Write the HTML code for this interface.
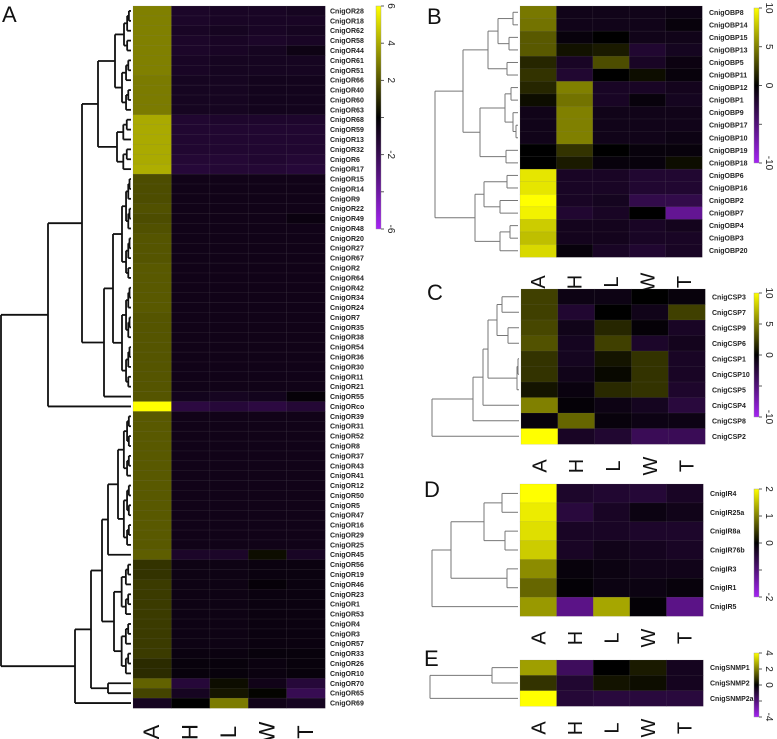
<!DOCTYPE html>
<html><head><meta charset="utf-8"><style>
html,body{margin:0;padding:0;background:#fff;}
svg{display:block;font-family:"Liberation Sans",sans-serif;}
</style></head><body>
<svg id="fig" width="777" height="739" viewBox="0 0 777 739" xmlns="http://www.w3.org/2000/svg"></svg>
<script>
const cols=['A','H','L','W','T'];
const labelsA=['CnigOR28','CnigOR18','CnigOR62','CnigOR58','CnigOR44','CnigOR61','CnigOR51','CnigOR66','CnigOR40','CnigOR60','CnigOR63','CnigOR68','CnigOR59','CnigOR13','CnigOR32','CnigOR6','CnigOR17','CnigOR15','CnigOR14','CnigOR9','CnigOR22','CnigOR49','CnigOR48','CnigOR20','CnigOR27','CnigOR67','CnigOR2','CnigOR64','CnigOR42','CnigOR34','CnigOR24','CnigOR7','CnigOR35','CnigOR38','CnigOR54','CnigOR36','CnigOR30','CnigOR11','CnigOR21','CnigOR55','CnigORco','CnigOR39','CnigOR31','CnigOR52','CnigOR8','CnigOR37','CnigOR43','CnigOR41','CnigOR12','CnigOR50','CnigOR5','CnigOR47','CnigOR16','CnigOR29','CnigOR25','CnigOR45','CnigOR56','CnigOR19','CnigOR46','CnigOR23','CnigOR1','CnigOR53','CnigOR4','CnigOR3','CnigOR57','CnigOR33','CnigOR26','CnigOR10','CnigOR70','CnigOR65','CnigOR69'];
const valsA=[
[3.0,-1,-0.9,-0.9,-0.8],[3.0,-1,-0.9,-0.9,-0.9],[3.0,-0.9,-0.8,-0.9,-0.8],[3.0,-1,-0.9,-1,-0.9],[3.0,-1,-0.9,-0.8,-0.5],
[3.0,-0.9,-0.8,-0.8,-0.8],[3.0,-0.9,-0.8,-0.8,-0.8],[2.9,-0.8,-0.8,-0.7,-0.7],[2.9,-0.8,-0.8,-0.7,-0.7],[2.9,-0.8,-0.8,-0.7,-0.7],[2.9,-0.8,-0.8,-0.7,-0.7],
[4.0,-1.2,-1.1,-1.1,-1.1],[4.0,-1.2,-1.2,-1.2,-1.2],[4.0,-1.2,-1.2,-1.2,-1.2],[4.0,-1.2,-1.2,-1.2,-1.2],[4.0,-1.3,-1.3,-1.2,-1.3],[4.1,-1.4,-1.3,-1.3,-1.4],
[1.8,-0.6,-0.6,-0.6,-0.6],[1.8,-0.6,-0.6,-0.6,-0.6],[1.8,-0.6,-0.6,-0.6,-0.6],[1.9,-0.6,-0.6,-0.6,-0.6],[1.8,-0.6,-0.6,-0.6,-0.4],[1.9,-0.6,-0.6,-0.6,-0.6],[2.0,-0.6,-0.6,-0.6,-0.6],
[2.0,-0.6,-0.6,-0.6,-0.6],[2.0,-0.6,-0.6,-0.6,-0.6],[2.1,-0.6,-0.6,-0.6,-0.6],[2.1,-0.6,-0.6,-0.6,-0.6],[2.1,-0.6,-0.6,-0.6,-0.6],[2.1,-0.6,-0.6,-0.6,-0.6],[2.1,-0.6,-0.6,-0.6,-0.6],
[2.0,-0.6,-0.6,-0.6,-0.6],[2.0,-0.6,-0.6,-0.6,-0.6],[2.0,-0.6,-0.6,-0.6,-0.6],[2.0,-0.6,-0.6,-0.6,-0.6],[2.0,-0.6,-0.6,-0.6,-0.6],[2.0,-0.6,-0.6,-0.6,-0.6],[2.0,-0.6,-0.6,-0.6,-0.6],[2.0,-0.6,-0.6,-0.6,-0.6],[2.0,-0.7,-0.8,-0.7,-0.2],
[6.0,-1.6,-1.4,-1.6,-1.3],
[2.1,-0.6,-0.6,-0.6,-0.6],[2.1,-0.6,-0.6,-0.6,-0.6],[2.1,-0.6,-0.6,-0.6,-0.6],[2.1,-0.6,-0.6,-0.6,-0.6],[2.1,-0.6,-0.6,-0.6,-0.6],[2.1,-0.6,-0.6,-0.6,-0.6],[2.1,-0.6,-0.6,-0.6,-0.6],
[2.1,-0.6,-0.6,-0.6,-0.6],[2.1,-0.6,-0.6,-0.6,-0.6],[2.1,-0.6,-0.6,-0.6,-0.6],[2.1,-0.6,-0.6,-0.6,-0.6],[2.1,-0.6,-0.6,-0.6,-0.6],[2.1,-0.6,-0.6,-0.6,-0.6],[2.1,-0.6,-0.6,-0.6,-0.6],
[2.2,-1.0,-1.0,0.3,-0.9],
[1.2,-0.5,-0.5,-0.4,-0.4],[1.2,-0.5,-0.5,-0.4,-0.4],[1.4,-0.5,-0.5,-0.2,-0.4],[1.4,-0.5,-0.5,-0.4,-0.4],[1.4,-0.5,-0.5,-0.4,-0.4],[1.4,-0.5,-0.5,-0.4,-0.4],
[1.4,-0.5,-0.5,-0.4,-0.4],[1.4,-0.5,-0.5,-0.4,-0.4],[1.4,-0.5,-0.5,-0.4,-0.4],[1.4,-0.4,-0.4,-0.3,-0.3],[1.0,-0.3,-0.3,-0.4,-0.3],[1.0,-0.3,-0.3,-0.4,-0.3],
[2.3,-1.4,0.3,-0.6,-1.4],[1.6,-0.8,0.5,0.1,-2.0],[-0.8,0.0,2.9,-0.6,-0.8]];
const labelsB=['CnigOBP8','CnigOBP14','CnigOBP15','CnigOBP13','CnigOBP5','CnigOBP11','CnigOBP12','CnigOBP1','CnigOBP9','CnigOBP17','CnigOBP10','CnigOBP19','CnigOBP18','CnigOBP6','CnigOBP16','CnigOBP2','CnigOBP7','CnigOBP4','CnigOBP3','CnigOBP20'];
const valsB=[[4.7,-1,-1,-1,-0.8],[4.5,-1,-1,-1,-0.5],[3.5,-0.5,0,-1,-1],[3.5,0.7,1,-2,-1.3],[1.5,-1.5,3,-1.5,-0.7],[2,-2,0,0.5,-0.5],[1.5,5,-1.5,-1.5,-1.2],[0.5,4.5,-1.5,-0.5,-1.3],[-1,5,-1,-1,-1],[-1,5,-1,-1,-1],[-1,5,-1,-1,-0.8],[0,2,0,-0.5,-0.5],[0,1,-0.5,-0.5,0.5],[9,-1.5,-1.5,-2,-2],[9,-1.5,-1.5,-2,-2],[10,-1.5,-1.3,-3,-3],[9.5,-2,-1.5,0,-6],[8,-1.2,-1.2,-1.5,-1.2],[7.5,-1.2,-1.2,-1.5,-1.5],[8.5,-0.5,-1.5,-2,-1.5]];
const labelsC=['CnigCSP3','CnigCSP7','CnigCSP9','CnigCSP6','CnigCSP1','CnigCSP10','CnigCSP5','CnigCSP4','CnigCSP8','CnigCSP2'];
const valsC=[[2.5,-0.8,-0.8,0,-0.5],[2.5,-2,0,-1,2.5],[2.8,-1,1.5,-0.3,-1.5],[3.2,-1.3,2.5,-1.7,-1.2],[2,-1.3,0.8,2,-1.5],[2,-1,0.3,2,-1.5],[0.8,-0.6,1.6,2,-1.8],[5,-0.3,-0.8,-1.3,-2.5],[-0.5,4,-0.5,-0.8,-0.8],[10,-1.5,-2,-3.5,-3.5]];
const labelsD=['CnigIR4','CnigIR25a','CnigIR8a','CnigIR76b','CnigIR3','CnigIR1','CnigIR5'];
const valsD=[[2,-0.35,-0.4,-0.45,-0.3],[1.85,-0.5,-0.3,-0.15,-0.2],[1.75,-0.3,-0.3,-0.35,-0.35],[1.6,-0.3,-0.2,-0.25,-0.3],[1.1,-0.1,-0.15,-0.2,-0.2],[0.8,-0.05,-0.15,-0.15,-0.1],[1.2,-1.1,1.3,-0.05,-1.1]];
const labelsE=['CnigSNMP1','CnigSNMP2','CnigSNMP2a'];
const valsE=[[2.5,-1.5,0,0.4,-0.5],[0.8,-0.8,0.3,0.2,-0.5],[4,-0.9,-1,-1,-1]];
const ticksA=[6,4,2,0,-2,-4,-6], tickLabA=['6','4','2','','-2','','-6'];
const ticksB=[10,5,0,-5,-10], tickLabB=['10','5','0','','-10'];
const ticksD=[2,1,0,-1,-2], tickLabD=['2','1','0','','-2'];
const ticksE=[4,2,0,-2,-4], tickLabE=['4','2','0','','-4'];

const NS='http://www.w3.org/2000/svg';
const svg=document.getElementById('fig');
function mk(tag,attrs,parent){const e=document.createElementNS(NS,tag);for(const k in attrs)e.setAttribute(k,attrs[k]);(parent||svg).appendChild(e);return e;}
function color(v,max){let t=Math.max(-1,Math.min(1,v/max));if(t>=0){const c=Math.round(255*t);return `rgb(${c},${c},0)`;}t=-t;return `rgb(${Math.round(165*t)},${Math.round(35*t)},${Math.round(245*t)})`;}
function split(a,b,x,xl){if(a===b)return a;const m=Math.floor((a+b)/2);const nx=x+(xl-x)*0.45;return {x:x,c:[split(a,m,nx,xl),split(m+1,b,nx,xl)]};}
function N(x,a,b){return {x:x,c:[a,b]};}

function drawTree(node,P,g){
  if(typeof node==='number'){return {y:P.y0+(node+0.5)*P.rh,x:P.x0-2};}
  const r=node.c.map(ch=>drawTree(ch,P,g));
  r.forEach(o=>{mk('line',{x1:node.x,y1:o.y,x2:o.x,y2:o.y,stroke:P.lc,'stroke-width':P.lw},g);});
  const ys=r.map(o=>o.y);
  mk('line',{x1:node.x,y1:Math.min(...ys),x2:node.x,y2:Math.max(...ys),stroke:P.lc,'stroke-width':P.lw},g);
  return {y:(Math.min(...ys)+Math.max(...ys))/2,x:node.x};
}

function panel(P){
  const g=mk('g',{});
  
  
  const cw=(P.x1-P.x0)/5; P.rh=(P.y1-P.y0)/P.labels.length;
  P.vals.forEach((row,i)=>row.forEach((v,j)=>{
    const r=mk('rect',{x:P.x0+j*cw,y:P.y0+i*P.rh,width:cw+0.3,height:P.rh+0.3,fill:color(v,P.max),stroke:'rgba(120,120,120,0.25)','stroke-width':0.5},g);
    
    
  }));
  P.labels.forEach((l,i)=>{
    const t=mk('text',{x:P.lx,y:P.y0+(i+0.5)*P.rh+2.5,'font-size':7,'font-weight':'bold',fill:'#222'},g);
    t.textContent=l;
    
    
  });
  cols.forEach((c,j)=>{
    const cx=P.x0+(j+0.5)*cw;
    const t=mk('text',{x:cx+7,y:P.cy,'font-size':P.cfs,'text-anchor':'middle',fill:'#111',transform:`rotate(-90 ${cx+7} ${P.cy})`},g);
    t.textContent=c;
    
    
  });
  const tg=mk('g',{},g);
  
  
  drawTree(P.tree,P,tg);
  // colorbar
  const gid='grad'+P.id;
  const defs=mk('defs',{},g);
  const lg=mk('linearGradient',{id:gid,x1:0,y1:0,x2:0,y2:1},defs);
  mk('stop',{offset:'0%','stop-color':'rgb(255,255,0)'},lg);
  mk('stop',{offset:'50%','stop-color':'rgb(0,0,0)'},lg);
  mk('stop',{offset:'100%','stop-color':'rgb(165,35,245)'},lg);
  const cb=mk('rect',{x:P.cbx,y:P.cby0,width:5,height:P.cby1-P.cby0,fill:`url(#${gid})`,stroke:'#999','stroke-width':0.4},g);
  
  
  const sc=v=>P.cby0+(P.max-v)/(2*P.max)*(P.cby1-P.cby0);
  P.ticks.forEach((v,k)=>{
    const y=sc(v);
    mk('line',{x1:P.cbx+5,y1:y,x2:P.cbx+8,y2:y,stroke:'#333','stroke-width':0.8},g);
    if(P.tlab[k]){const t=mk('text',{x:P.cbx+12,y:y,'font-size':10,'text-anchor':'middle',fill:'#222',transform:`rotate(90 ${P.cbx+12} ${y})`},g);t.textContent=P.tlab[k];
      
      }
  });
  const L=mk('text',{x:P.lxL,y:P.lyL,'font-size':22,fill:'#111'},g);
  L.textContent=P.id;
  
  
}

const treeA=N(1,
  N(48,N(82,N(98,N(115,split(0,4,124,131),split(5,10,122,131)),split(11,16,117,131)),N(104,N(113,split(17,27,122,131),split(28,38,122,131)),39)),40),
  N(75,N(91,N(102,N(108,split(41,54,118,131),55),split(56,67,114,131)),N(108,68,69)),70));
panel({id:'A',labels:labelsA,vals:valsA,max:6,x0:133,x1:325,y0:6,y1:708,lx:330,cy:732,cfs:22,tree:treeA,lw:1.8,lc:'#111',cbx:376,cby0:6,cby1:229,ticks:ticksA,tlab:tickLabA,lxL:2,lyL:22});

const treeB=N(435,N(463,N(488,N(498,N(513,0,1),N(509,2,3)),N(507,4,5)),N(480,N(505,N(511,6,7),N(513,8,N(516,9,10))),N(506,11,12))),
  N(475,N(484,N(507,13,14),N(500,15,16)),N(500,N(510,17,18),19)));
panel({id:'B',labels:labelsB,vals:valsB,max:10,x0:520,x1:702,y0:6,y1:257,lx:709,cy:282,cfs:20,tree:treeB,lw:1,lc:'#777',cbx:754,cby0:8,cby1:163,ticks:ticksB,tlab:tickLabB,lxL:427,lyL:24});

const treeC=N(432,N(473,N(483,N(488,N(497,N(502,0,1),N(508,2,3)),N(517,N(518,4,5),6)),7),8),9);
panel({id:'C',labels:labelsC,vals:valsC,max:10,x0:521,x1:705,y0:289,y1:444,lx:712,cy:466,cfs:20,tree:treeC,lw:1,lc:'#777',cbx:754,cby0:293,cby1:417,ticks:ticksB,tlab:tickLabB,lxL:427,lyL:300});

const treeD=N(432,N(451,N(484,N(502,0,1),N(505,2,3)),N(507,4,5)),6);
panel({id:'D',labels:labelsD,vals:valsD,max:2,x0:520,x1:703,y0:484,y1:616,lx:710,cy:638,cfs:20,tree:treeD,lw:1,lc:'#777',cbx:754,cby0:489,cby1:597,ticks:ticksD,tlab:tickLabD,lxL:424,lyL:497});

const treeE=N(430,N(492,0,1),2);
panel({id:'E',labels:labelsE,vals:valsE,max:4,x0:520,x1:703,y0:660,y1:706,lx:710,cy:728,cfs:20,tree:treeE,lw:1,lc:'#777',cbx:754,cby0:653,cby1:717,ticks:ticksE,tlab:tickLabE,lxL:424,lyL:666});
</script>
</body></html>
